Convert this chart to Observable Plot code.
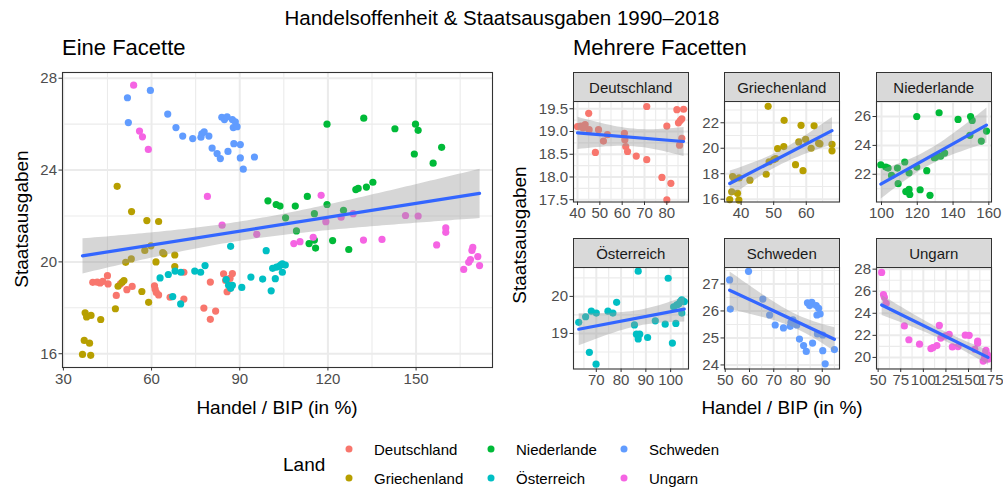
<!DOCTYPE html>
<html><head><meta charset="utf-8">
<script src="https://cdn.jsdelivr.net/npm/d3@7"></script>
<script src="https://cdn.jsdelivr.net/npm/@observablehq/plot@0.6"></script>
<style>
body{margin:0;background:#fff;}
#root{position:relative;width:1003px;height:489px;overflow:hidden;background:#fff;font-family:"Liberation Sans",Arial,Helvetica,sans-serif;color:#000;}
#root svg{position:absolute;}
.t{position:absolute;white-space:nowrap;transform:translate(-50%,-50%);line-height:1;}
.tl{position:absolute;white-space:nowrap;transform:translate(0,-50%);line-height:1;}
.strip{position:absolute;background:#d9d9d9;border:1.1px solid #333;box-sizing:border-box;text-align:center;font-size:15px;color:#1a1a1a;display:flex;align-items:center;justify-content:center;}
.dot{position:absolute;width:7px;height:7px;border-radius:50%;transform:translate(-50%,-50%);}
</style></head><body><div id="root"></div>
<script>
// ---- data (Handel / BIP in %, Staatsausgaben in % BIP) ----
const countries = ["Deutschland","Griechenland","Niederlande","Österreich","Schweden","Ungarn"];
const colors = ["#F8766D","#B79F00","#00BA38","#00BFC4","#619CFF","#F564E3"];

const DE = [[40.0,19.11],[41.5,19.12],[42.5,19.08],[43.4,19.15],[45.0,19.40],[45.2,19.04],[48.0,18.54],[49.4,19.04],[51.6,18.79],[53.4,18.93],[61.0,18.96],[61.2,18.82],[61.6,18.67],[62.4,18.56],[66.3,18.46],[71.0,19.55],[71.0,18.38],[77.8,17.99],[80.0,19.12],[80.0,17.50],[81.8,17.86],[84.5,19.48],[85.2,19.19],[86.0,19.24],[86.7,19.28],[87.5,19.49],[86.7,18.85],[85.7,18.70]];
const GR = [[36.5,15.97],[37.1,16.58],[37.4,17.78],[37.9,17.60],[38.9,16.46],[39.3,15.93],[39.4,17.67],[42.7,17.49],[47.7,17.96],[48.3,23.29],[48.6,18.94],[50.0,19.11],[50.6,19.19],[51.2,19.98],[53.1,20.13],[53.2,22.19],[56.7,18.71],[57.7,20.50],[58.4,21.80],[59.0,18.24],[59.8,20.70],[61.5,20.00],[62.4,21.76],[63.8,20.40],[64.2,20.35],[67.9,20.30],[67.9,19.80]];
const NL = [[99.6,22.66],[102.4,22.50],[103.7,22.43],[105.6,21.92],[108.9,22.43],[109.3,21.35],[113.0,22.85],[113.6,20.80],[115.4,22.10],[115.4,20.95],[115.8,20.60],[119.7,22.50],[119.7,26.00],[121.6,20.93],[125.3,22.25],[127.1,20.54],[129.5,23.15],[130.3,23.20],[132.2,26.26],[133.1,23.26],[135.3,23.47],[142.8,25.80],[149.8,26.00],[150.7,25.73],[149.4,24.70],[155.8,24.30],[158.7,24.99]];
const AT = [[62.9,19.30],[65.7,19.45],[67.2,18.49],[68.0,19.60],[70.0,19.55],[69.9,18.17],[74.7,19.60],[76.7,19.55],[78.2,19.84],[85.4,19.23],[86.2,18.98],[86.9,20.68],[86.9,18.85],[87.5,18.98],[90.7,18.89],[93.8,19.34],[97.8,19.25],[99.0,20.49],[100.7,18.74],[102.1,19.27],[101.2,19.72],[102.5,19.77],[103.3,19.80],[103.9,19.86],[104.5,19.91],[105.5,19.86],[104.5,19.55]];
const SE = [[51.8,27.15],[52.1,26.07],[59.6,27.47],[65.5,26.44],[68.3,25.85],[70.6,25.48],[74.0,25.37],[76.8,25.43],[77.1,25.58],[77.9,25.67],[79.5,25.48],[80.6,24.96],[82.3,24.72],[83.4,24.50],[83.9,26.30],[84.8,26.20],[85.7,26.32],[86.0,24.81],[87.5,26.20],[88.5,26.10],[87.8,25.85],[89.1,25.89],[88.0,25.15],[90.2,25.11],[90.2,24.53],[91.2,24.04],[95.0,24.57]];
const HU = [[53.9,27.70],[55.9,25.70],[56.9,25.45],[58.9,24.90],[79.0,22.85],[84.0,21.60],[95.8,21.20],[108.4,20.80],[110.5,20.88],[115.0,21.07],[117.7,22.90],[119.3,21.75],[124.5,21.95],[128.6,22.10],[132.1,20.95],[138.4,20.98],[146.4,22.02],[150.7,22.00],[157.0,20.74],[160.1,21.48],[160.1,21.29],[166.2,19.67],[167.9,19.98],[169.3,20.63],[171.0,20.23],[171.6,19.84],[169.0,20.50],[168.5,20.10]];

const series = [DE, GR, NL, AT, SE, HU];

// tick values (as printed on the axes)
const bigXTicks = [30,60,90,120,150], bigYTicks = [16,20,24,28];
const facetXTicks = [[40,50,60,70,80],[40,50,60],[100,120,140,160],[70,80,90,100],[50,60,70,80,90],[50,75,100,125,150,175]];
const facetYTicks = [[17.5,18,18.5,19,19.5],[16,18,20,22],[20,22,24,26],[19,20],[24,25,26,27],[20,22,24,26,28]];

// scale domains (as shown, incl. ggplot expansion)
const bigXDomain = [29.7,176], bigYDomain = [15.4,28.25];
const facetXDomains = [[38.2,89.7],[34.9,70.2],[97.2,161.5],[60.8,107.2],[49.7,97.1],[48.2,175.4]];
const facetYDomains = [[17.45,19.66],[15.78,23.67],[20.08,27.04],[18.04,20.78],[23.85,27.61],[18.95,28.15]];

// ---- build ----
const rows = series.flatMap((s,i) => s.map(([x,y]) => ({land: countries[i], x, y})));
const FONT = '"Liberation Sans", Arial, Helvetica, sans-serif';
const root = document.getElementById("root");

function minorOf(t, dom){
  const step = t[1]-t[0];
  const out = [t[0]-step/2, ...t.slice(0,-1).map((v,i)=>(v+t[i+1])/2), t[t.length-1]+step/2];
  return out.filter(v => v > dom[0] && v < dom[1]);
}
function makePanel(o){
  const {data, xDomain, yDomain, xTicks, yTicks, xFmt = d => String(d), yFmt = d => String(d), W, H, ml, mt, mr, mb} = o;
  const inX = v => v >= xDomain[0] && v <= xDomain[1];
  const inY = v => v >= yDomain[0] && v <= yDomain[1];
  return Plot.plot({
    width: ml+W+mr, height: mt+H+mb,
    marginLeft: ml, marginTop: mt, marginRight: mr, marginBottom: mb,
    style: {background: "transparent", fontFamily: FONT, overflow: "visible"},
    x: {domain: xDomain, label: null},
    y: {domain: yDomain, label: null},
    color: {domain: countries, range: colors},
    marks: [
      Plot.ruleX(minorOf(xTicks, xDomain), {stroke: "#ebebeb", strokeWidth: 1.1}),
      Plot.ruleY(minorOf(yTicks, yDomain), {stroke: "#ebebeb", strokeWidth: 1.1}),
      Plot.ruleX(xTicks.filter(inX), {stroke: "#ebebeb", strokeWidth: 2}),
      Plot.ruleY(yTicks.filter(inY), {stroke: "#ebebeb", strokeWidth: 2}),
      Plot.dot(data, {x: "x", y: "y", fill: "land", r: 3.6}),
      Plot.linearRegressionY(data, {x: "x", y: "y", stroke: "#3366FF", strokeWidth: 3.2, fill: "#999999", fillOpacity: 0.4}),
      Plot.frame({stroke: "#333333", strokeWidth: 1.1}),
      Plot.axisX(xTicks.filter(inX), {tickSize: 3.5, tickPadding: 2, stroke: "#333333", fill: "#4d4d4d", fontSize: 15, tickFormat: xFmt, label: null}),
      Plot.axisY(yTicks.filter(inY), {tickSize: 3.5, tickPadding: 2, stroke: "#333333", fill: "#4d4d4d", fontSize: 15, tickFormat: yFmt, label: null})
    ]
  });
}
function place(svg, left, top){ svg.style.left = left + "px"; svg.style.top = top + "px"; root.appendChild(svg); }
function text(str, x, y, size, cls = "t", rotate = false){
  const d = document.createElement("div");
  d.className = cls; d.textContent = str;
  d.style.left = x + "px"; d.style.top = y + "px"; d.style.fontSize = size + "px";
  if (rotate) d.style.transform = "translate(-50%,-50%) rotate(-90deg)";
  root.appendChild(d); return d;
}

// big single panel
place(makePanel({data: rows, xDomain: bigXDomain, yDomain: bigYDomain, xTicks: bigXTicks, yTicks: bigYTicks,
  W: 430, H: 295, ml: 62, mt: 12, mr: 8, mb: 40}), 0, 60);

// small multiples
const colL = [573, 724, 876], rowT = [101, 267], rowH = [100.5, 101.5], PW = 115, SH = 29;
countries.forEach((c, i) => {
  const col = i % 3, row = Math.floor(i / 3);
  const L = colL[col], T = rowT[row], H = rowH[row];
  place(makePanel({data: rows.filter(r => r.land === c), xDomain: facetXDomains[i], yDomain: facetYDomains[i],
    xTicks: facetXTicks[i], yTicks: facetYTicks[i], yFmt: i === 0 ? (d => d.toFixed(1)) : (d => String(d)),
    W: PW, H, ml: 40, mt: 4, mr: 6, mb: 26}), L - 40, T - 4);
  const s = document.createElement("div");
  s.className = "strip"; s.textContent = c;
  s.style.left = L + "px"; s.style.top = (T - SH) + "px"; s.style.width = (PW + 0.5) + "px"; s.style.height = (SH + 1) + "px";
  root.appendChild(s);
});

// titles
text("Handelsoffenheit & Staatsausgaben 1990–2018", 502, 18, 20.5);
text("Eine Facette", 62, 48, 22, "tl");
text("Mehrere Facetten", 573, 48, 22, "tl");
text("Staatsausgaben", 21, 219, 19, "t", true);
text("Handel / BIP (in %)", 277, 407, 19);
text("Staatsausgaben", 519, 234.5, 19, "t", true);
text("Handel / BIP (in %)", 782, 407, 19);

// legend
text("Land", 283, 464, 19, "tl");
const lx = [349, 491, 624], ly = [449, 478];
countries.forEach((c, i) => {
  const col = Math.floor(i / 2), row = i % 2;
  const d = document.createElement("div");
  d.className = "dot"; d.style.background = colors[i];
  d.style.left = lx[col] + "px"; d.style.top = ly[row] + "px";
  root.appendChild(d);
  text(c, lx[col] + 25, ly[row], 15, "tl");
});
</script></body></html>
